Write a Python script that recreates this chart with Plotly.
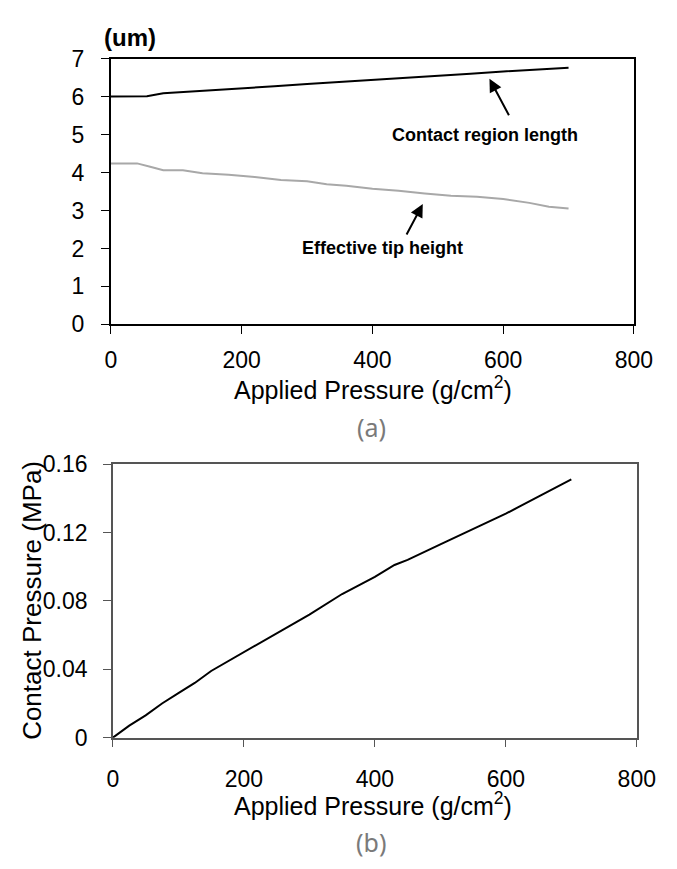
import plotly.graph_objects as go

# ---- data ----
pressure_a = [0, 25, 55, 80, 110, 150, 200, 250, 300, 350, 400, 450, 500, 550, 600, 650, 700]
contact_len = [6.0, 6.0, 6.01, 6.09, 6.12, 6.16, 6.21, 6.27, 6.33, 6.38, 6.43, 6.49, 6.55, 6.60, 6.66, 6.71, 6.76]

pressure_t = [0, 20, 40, 60, 80, 110, 140, 180, 220, 260, 300, 330, 360, 400, 440, 480, 520, 560, 600, 640, 670, 700]
tip_height = [4.24, 4.24, 4.24, 4.15, 4.06, 4.06, 3.98, 3.94, 3.88, 3.80, 3.77, 3.69, 3.65, 3.57, 3.52, 3.45, 3.39, 3.36, 3.30, 3.20, 3.10, 3.05]

pressure_b = [0, 25, 50, 75, 100, 125, 150, 200, 250, 300, 350, 400, 430, 450, 500, 550, 600, 630, 650, 700]
contact_p = [0.0, 0.007, 0.013, 0.020, 0.026, 0.032, 0.039, 0.050, 0.061, 0.072, 0.084, 0.094, 0.101, 0.104, 0.113, 0.122, 0.131, 0.137, 0.141, 0.151]

x_ticks = [0, 200, 400, 600, 800]
y_ticks_a = [0, 1, 2, 3, 4, 5, 6, 7]
y_ticks_b = [0, 0.04, 0.08, 0.12, 0.16]
y_ticktext_b = ["0", "0.04", "0.08", "0.12", "0.16"]

FONT = "Liberation Sans, Arial, sans-serif"

fig = go.Figure()
fig.add_trace(go.Scatter(x=pressure_a, y=contact_len, mode="lines",
                         line=dict(color="black", width=2), xaxis="x", yaxis="y", showlegend=False))
fig.add_trace(go.Scatter(x=pressure_t, y=tip_height, mode="lines",
                         line=dict(color="#a8a8a8", width=2), xaxis="x", yaxis="y", showlegend=False))
fig.add_trace(go.Scatter(x=pressure_b, y=contact_p, mode="lines",
                         line=dict(color="black", width=2), xaxis="x2", yaxis="y2", showlegend=False))

W, H = 677, 869

tick_font = dict(family=FONT, size=23, color="black")

fig.update_layout(
    width=W, height=H,
    margin=dict(l=0, r=0, t=0, b=0),
    paper_bgcolor="white", plot_bgcolor="white",
    xaxis=dict(domain=[109 / W, 652 / W], range=[0, 800], tickvals=x_ticks,
               showgrid=False, zeroline=False, showline=True, linecolor="black", linewidth=2,
               mirror=True, ticks="outside", ticklen=8, tickcolor="black", tickwidth=1,
               tickfont=tick_font, ticklabelstandoff=6, anchor="y"),
    yaxis=dict(domain=[1 - 321 / H, 1 - 47 / H], range=[0, 7], tickvals=y_ticks_a,
               showgrid=False, zeroline=False, showline=True, linecolor="black", linewidth=2,
               mirror=True, ticks="outside", ticklen=8, tickcolor="black", tickwidth=1,
               tickfont=tick_font, ticklabelstandoff=12, anchor="x"),
    xaxis2=dict(domain=[111 / W, 655 / W], range=[0, 800], tickvals=x_ticks,
                showgrid=False, zeroline=False, showline=True, linecolor="#555555", linewidth=1.5,
                mirror=True, ticks="outside", ticklen=8, tickcolor="#555555", tickwidth=1,
                tickfont=tick_font, ticklabelstandoff=12, anchor="y2"),
    yaxis2=dict(domain=[1 - 747 / H, 1 - 465 / H], range=[0, 0.16], tickvals=y_ticks_b,
                ticktext=y_ticktext_b,
                showgrid=False, zeroline=False, showline=True, linecolor="#555555", linewidth=1.5,
                mirror=True, ticks="outside", ticklen=8, tickcolor="#555555", tickwidth=1,
                tickfont=tick_font, ticklabelstandoff=11, anchor="x2"),
)

ann = []
# unit label
ann.append(dict(text="<b>(um)</b>", x=129 / W, y=1 - 25 / H, xref="paper", yref="paper",
                showarrow=False, font=dict(family=FONT, size=24, color="black"),
                xanchor="center", yanchor="middle"))
# x titles
for yy in (1 - 387 / H, 1 - 815 / H):
    ann.append(dict(text="Applied Pressure (g/cm<sup>2</sup>)", x=381 / W, y=yy, xref="paper", yref="paper",
                    showarrow=False, font=dict(family=FONT, size=25, color="black"),
                    xanchor="center", yanchor="middle"))
# y title (bottom)
ann.append(dict(text="Contact Pressure (MPa)", x=27 / W, y=1 - 606 / H, xref="paper", yref="paper",
                showarrow=False, textangle=-90, font=dict(family=FONT, size=26, color="black"),
                xanchor="center", yanchor="middle"))
# panel labels
ann.append(dict(text="(a)", x=379 / W, y=1 - 427 / H, xref="paper", yref="paper", showarrow=False,
                font=dict(family="Noto Sans, DejaVu Sans, sans-serif", size=25, color="#7a7a7a"),
                xanchor="center", yanchor="middle"))
ann.append(dict(text="(b)", x=379 / W, y=1 - 855 / H, xref="paper", yref="paper", showarrow=False,
                font=dict(family="Noto Sans, DejaVu Sans, sans-serif", size=25, color="#7a7a7a"),
                xanchor="center", yanchor="middle"))
# series labels
ann.append(dict(text="<b>Contact region length</b>", x=572, y=5.0, xref="x", yref="y", showarrow=False,
                font=dict(family=FONT, size=18, color="black"), xanchor="center", yanchor="middle"))
ann.append(dict(text="<b>Effective tip height</b>", x=415, y=2.0, xref="x", yref="y", showarrow=False,
                font=dict(family=FONT, size=18, color="black"), xanchor="center", yanchor="middle"))
# arrows
ann.append(dict(text="", x=579, y=6.47, ax=610, ay=5.47, xref="x", yref="y", axref="x", ayref="y",
                showarrow=True, arrowhead=2, arrowsize=1.3, arrowwidth=2, arrowcolor="black", standoff=0))
ann.append(dict(text="", x=477, y=3.17, ax=451, ay=2.33, xref="x", yref="y", axref="x", ayref="y",
                showarrow=True, arrowhead=2, arrowsize=1.3, arrowwidth=2, arrowcolor="black", standoff=0))

fig.update_layout(annotations=ann)

fig.write_html("out.html")
